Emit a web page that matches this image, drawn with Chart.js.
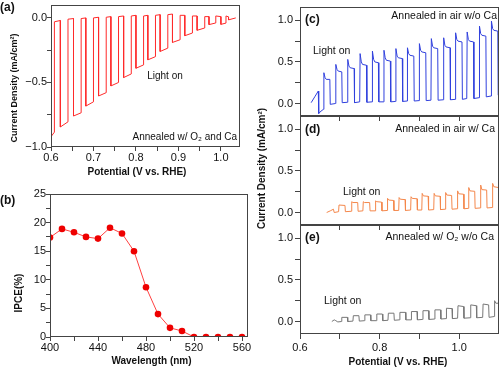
<!DOCTYPE html>
<html><head><meta charset="utf-8">
<script src="https://cdn.jsdelivr.net/npm/chart.js@4"></script>
<style>
html,body{margin:0;padding:0;background:#fff;}
#wrap{position:relative;width:500px;height:368px;overflow:hidden;background:#fff;}
canvas{position:absolute;}
</style></head><body>
<div id="wrap">
<canvas id="cb" width="258" height="188" style="left:0;top:180px"></canvas>
<canvas id="ca" width="250" height="180" style="left:0;top:0"></canvas>
<canvas id="ce" width="250" height="143" style="left:250px;top:225px"></canvas>
<canvas id="cd" width="250" height="139" style="left:250px;top:95px"></canvas>
<canvas id="cc" width="250" height="125" style="left:250px;top:0"></canvas>
</div>
<script>
// ---------- DATA ----------
// (a) chopped photocurrent, annealed w/ O2 and Ca
const potA = [0.600,0.608,0.608,0.622, 0.622,0.640,0.640,0.653, 0.653,0.671,0.671,0.682, 0.682,0.700,0.700,0.712,
  0.712,0.730,0.730,0.741, 0.741,0.759,0.759,0.771, 0.771,0.789,0.789,0.800, 0.800,0.818,0.818,0.828,
  0.828,0.846,0.846,0.857, 0.857,0.875,0.875,0.886, 0.886,0.904,0.904,0.915, 0.915,0.933,0.933,0.944,
  0.944,0.962,0.962,0.972, 0.972,0.988,0.988,1.000, 1.000,1.012,1.012,1.018,1.018,1.035];
const curA = [-0.92,-0.885,-0.03,-0.02, -0.845,-0.805,-0.01,-0.005, -0.76,-0.735,-0.005,0.0, -0.683,-0.65,0.0,0.005,
  -0.605,-0.579,0.005,0.01, -0.527,-0.50,0.01,0.015, -0.462,-0.434,0.015,0.02, -0.39,-0.364,0.015,0.02,
  -0.325,-0.30,0.02,0.025, -0.26,-0.234,0.025,0.03, -0.19,-0.169,0.02,0.02, -0.138,-0.117,0.015,0.015,
  -0.096,-0.078,0.01,0.01, -0.052,-0.039,0.015,0.01, -0.05,-0.04,0.015,0.008,-0.015,0.0];

// (b) IPCE
const wavelength = [400,410,420,430,440,450,460,470,480,490,500,510,520,530,540,550,560];
const ipce = [17.4,18.9,18.3,17.5,17.2,19.1,18.1,15.0,8.7,4.0,1.6,1.05,0,0,0,0,0];

// (c) annealed in air w/o Ca
const potC = [0.628,0.637,0.646,0.647,0.653,0.659,
  0.660,0.663,0.666,0.675,0.676,0.689, 0.690,0.693,0.696,0.705,0.706,0.719,
  0.720,0.723,0.726,0.736,0.737,0.750, 0.751,0.754,0.757,0.767,0.768,0.781,
  0.782,0.785,0.788,0.797,0.798,0.810, 0.811,0.814,0.817,0.827,0.828,0.840,
  0.841,0.844,0.847,0.857,0.858,0.869, 0.870,0.873,0.876,0.886,0.887,0.899,
  0.900,0.903,0.906,0.916,0.917,0.929, 0.930,0.933,0.936,0.946,0.947,0.960,
  0.961,0.964,0.967,0.977,0.978,0.990, 0.991,0.994,0.997,1.007,1.008,1.019,
  1.020,1.023,1.026,1.036,1.037,1.050, 1.051,1.054,1.057,1.067,1.068,1.080,
  1.081,1.084,1.087,1.097,1.098,1.100];
const curC = [0.01,0.08,0.15,-0.12,-0.09,-0.07,
  0.37,0.31,0.29,0.29,-0.01,0.0, 0.47,0.41,0.39,0.38,0.01,0.015,
  0.53,0.45,0.43,0.42,0.01,0.02, 0.60,0.50,0.47,0.46,0.015,0.02,
  0.63,0.53,0.50,0.49,0.02,0.02, 0.64,0.55,0.52,0.51,0.02,0.025,
  0.66,0.57,0.55,0.54,0.025,0.03, 0.67,0.60,0.58,0.57,0.03,0.035,
  0.72,0.64,0.62,0.61,0.035,0.04, 0.78,0.69,0.67,0.66,0.04,0.045,
  0.79,0.70,0.68,0.67,0.045,0.05, 0.85,0.77,0.75,0.74,0.05,0.06,
  0.86,0.77,0.75,0.74,0.06,0.07, 0.93,0.84,0.82,0.81,0.08,0.09,
  0.99,0.90,0.88,0.87,0.10,0.10];

// (d) annealed in air w/ Ca
const potD = [0.667,0.676,0.684,0.686,0.697,
  0.698,0.713,0.714,0.729, 0.730,0.733,0.745,0.746,0.758,
  0.759,0.762,0.775,0.776,0.789, 0.790,0.793,0.805,0.806,0.819,
  0.820,0.823,0.835,0.836,0.848, 0.849,0.852,0.864,0.865,0.878,
  0.879,0.882,0.894,0.895,0.906, 0.907,0.910,0.922,0.923,0.936,
  0.937,0.940,0.952,0.953,0.965, 0.966,0.969,0.981,0.982,0.995,
  0.996,0.999,1.011,1.012,1.023, 1.024,1.027,1.039,1.040,1.053,
  1.054,1.057,1.069,1.070,1.083, 1.084,1.087,1.099];
const curD = [0.0,0.02,0.04,0.0,0.01,
  0.09,0.085,0.01,0.015, 0.13,0.12,0.12,0.015,0.02,
  0.13,0.12,0.12,0.02,0.02, 0.14,0.13,0.125,0.02,0.025,
  0.17,0.15,0.145,0.025,0.025, 0.18,0.16,0.155,0.025,0.03,
  0.19,0.17,0.165,0.03,0.03, 0.23,0.20,0.195,0.03,0.035,
  0.23,0.20,0.195,0.035,0.04, 0.24,0.21,0.205,0.04,0.045,
  0.26,0.225,0.22,0.045,0.05, 0.30,0.26,0.255,0.05,0.055,
  0.33,0.275,0.27,0.055,0.06, 0.35,0.31,0.30];

// (e) annealed w/ O2 w/o Ca
const potE = [0.680,0.686,0.690,0.695,0.704,
  0.705,0.719,0.720,0.733, 0.734,0.748,0.749,0.762,
  0.763,0.777,0.778,0.792, 0.793,0.807,0.808,0.821,
  0.822,0.836,0.837,0.850, 0.851,0.865,0.866,0.879,
  0.880,0.894,0.895,0.908, 0.909,0.923,0.924,0.938,
  0.939,0.953,0.954,0.967, 0.968,0.982,0.983,0.996,
  0.997,1.011,1.012,1.028, 1.029,1.043,1.044,1.059,
  1.060,1.074,1.075,1.088, 1.089,1.092,1.100];
const curE = [0.0,0.02,0.01,-0.005,0.0,
  0.05,0.05,0.0,0.005, 0.07,0.07,0.005,0.01,
  0.08,0.08,0.01,0.01, 0.09,0.09,0.01,0.015,
  0.10,0.10,0.015,0.02, 0.11,0.11,0.02,0.02,
  0.12,0.12,0.02,0.025, 0.13,0.13,0.025,0.03,
  0.14,0.14,0.03,0.035, 0.16,0.155,0.035,0.04,
  0.19,0.18,0.04,0.045, 0.20,0.19,0.045,0.05,
  0.21,0.20,0.05,0.06, 0.25,0.22,0.22];

// tick values / labels
const ticksAX = [0.6,0.65,0.7,0.75,0.8,0.85,0.9,0.95,1.0];
const labelsAX = [0.6,0.7,0.8,0.9,1.0];
const ticksAY = [-1,-0.75,-0.5,-0.25,0];
const labelsAY = [-1,-0.5,0];
const ticksBX = [400,420,440,460,480,500,520,540,560];
const labelsBX = [400,440,480,520,560];
const ticksBY = [0,2.5,5,7.5,10,12.5,15,17.5,20,22.5,25];
const labelsBY = [0,5,10,15,20,25];
const ticksRX = [0.6,0.7,0.8,0.9,1.0];
const labelsRX = [0.6,0.8,1.0];
const ticksRY = [0,0.25,0.5,0.75,1.0];
const labelsRY = [0,0.5,1.0];

// ---------- RENDER ----------
const FONT = "'Liberation Sans', Arial, Helvetica, sans-serif";
const FRAME = '#444';
const f1 = v => (v < 0 ? '\u2212' : '') + Math.abs(v).toFixed(1);
const f0 = v => String(Math.round(v));

function pts(xs, ys) { return xs.map((x, i) => ({x: x, y: ys[i]})); }

function axis(o) {
  return {
    type: 'linear', position: o.pos, min: o.min, max: o.max,
    afterBuildTicks: s => { s.ticks = o.ticks.map(v => ({value: v})); },
    afterFit: s => {
      if (o.pos === 'left') s.width = o.size; else s.height = o.size;
      s.paddingLeft = 0; s.paddingRight = 0; s.paddingTop = 0; s.paddingBottom = 0;
    },
    ticks: {
      autoSkip: false, maxRotation: 0, minRotation: 0, padding: o.pad, color: '#111',
      font: {family: FONT, size: 11},
      callback: v => { const m = o.labels.find(l => Math.abs(l - v) < 1e-9); return m === undefined ? '' : o.fmt(m); }
    },
    grid: {drawOnChartArea: false, drawTicks: true, tickLength: o.tl, color: FRAME, tickColor: FRAME, lineWidth: 1},
    border: {display: false}
  };
}

const deco = {
  id: 'deco',
  afterDraw(chart, args, opts) {
    const ctx = chart.ctx, a = chart.chartArea;
    ctx.save();
    ctx.strokeStyle = FRAME; ctx.lineWidth = 1;
    ctx.strokeRect(Math.round(a.left) + 0.5, Math.round(a.top) + 0.5,
      Math.round(a.right) - Math.round(a.left) - 1, Math.round(a.bottom) - Math.round(a.top) - 1);
    (opts.texts || []).forEach(t => {
      ctx.save();
      ctx.font = (t.b ? 'bold ' : '') + t.s + 'px ' + FONT;
      ctx.fillStyle = '#111';
      ctx.textAlign = t.a || 'left';
      ctx.textBaseline = 'middle';
      ctx.translate(t.x, t.y);
      if (t.r) ctx.rotate(-Math.PI / 2);
      ctx.fillText(t.t, 0, 0);
      ctx.restore();
    });
    ctx.restore();
  }
};

function make(id, datasets, sx, sy, pad, texts) {
  return new Chart(document.getElementById(id), {
    type: 'line',
    data: {datasets: datasets},
    options: {
      responsive: false, animation: false, devicePixelRatio: 1,
      layout: {padding: {left: 0, bottom: 0, top: pad.t, right: pad.r}},
      plugins: {legend: {display: false}, tooltip: {enabled: false}, deco: {texts: texts}},
      scales: {x: sx, y: sy}
    },
    plugins: [deco]
  });
}

function lineDs(xs, ys, color) {
  return {data: pts(xs, ys), borderColor: color, borderWidth: 1, pointRadius: 0, tension: 0, fill: false};
}

// (a)
make('ca', [lineDs(potA, curA, '#ff2a2a')],
  axis({pos: 'bottom', min: 0.6, max: 1.045, ticks: ticksAX, labels: labelsAX, fmt: f1, size: 33, tl: 4, pad: 0}),
  axis({pos: 'left', min: -1.0, max: 0.1, ticks: ticksAY, labels: labelsAY, fmt: f1, size: 51, tl: 4, pad: 0}),
  {t: 5, r: 10},
  [
    {t: '(a)', x: 0, y: 8, s: 12, b: true},
    {t: 'Current Density (mA/cm\u00B2)', x: 15, y: 88, s: 9, b: true, r: true, a: 'center'},
    {t: 'Potential (V vs. RHE)', x: 137, y: 172, s: 10, b: true, a: 'center'},
    {t: 'Light on', x: 165, y: 76, s: 10, a: 'center'},
    {t: 'Annealed w/ O\u2082 and Ca', x: 237, y: 137, s: 10, a: 'right'}
  ]);

// (b)
make('cb', [{data: pts(wavelength, ipce), borderColor: '#ff4040', borderWidth: 1, pointRadius: 3.3,
    pointBackgroundColor: '#ee0000', pointBorderWidth: 0, tension: 0, fill: false}],
  axis({pos: 'bottom', min: 400, max: 565, ticks: ticksBX, labels: labelsBX, fmt: f0, size: 31, tl: 4, pad: 0}),
  axis({pos: 'left', min: 0, max: 25, ticks: ticksBY, labels: labelsBY, fmt: f0, size: 50, tl: 4, pad: 0}),
  {t: 14, r: 10},
  [
    {t: '(b)', x: 0, y: 21, s: 12, b: true},
    {t: 'IPCE(%)', x: 19, y: 113, s: 10, b: true, r: true, a: 'center'},
    {t: 'Wavelength (nm)', x: 151.5, y: 181.5, s: 10, b: true, a: 'center'}
  ]);

// (c)
make('cc', [lineDs(potC, curC, '#3040dd')],
  axis({pos: 'bottom', min: 0.6, max: 1.1, ticks: ticksRX, labels: [], fmt: f1, size: 9, tl: 5, pad: 2}),
  axis({pos: 'left', min: -0.15, max: 1.16, ticks: ticksRY, labels: labelsRY, fmt: f1, size: 50, tl: 5, pad: 2}),
  {t: 7, r: 1},
  [
    {t: '(c)', x: 55, y: 20, s: 12, b: true},
    {t: 'Annealed in air w/o Ca', x: 247, y: 16, s: 10.5, a: 'right'},
    {t: 'Light on', x: 63, y: 51, s: 10.5}
  ]);

// (d)
make('cd', [lineDs(potD, curD, '#f4874b')],
  axis({pos: 'bottom', min: 0.6, max: 1.1, ticks: ticksRX, labels: [], fmt: f1, size: 9, tl: 5, pad: 2}),
  axis({pos: 'left', min: -0.15, max: 1.16, ticks: ticksRY, labels: labelsRY, fmt: f1, size: 50, tl: 5, pad: 2}),
  {t: 21, r: 1},
  [
    {t: '(d)', x: 55, y: 34.5, s: 12, b: true},
    {t: 'Annealed in air w/ Ca', x: 245, y: 34.5, s: 10.5, a: 'right'},
    {t: 'Light on', x: 93, y: 97, s: 10.5},
    {t: 'Current Density (mA/cm\u00B2)', x: 12, y: 73.5, s: 10, b: true, r: true, a: 'center'}
  ]);

// (e)
make('ce', [lineDs(potE, curE, '#777777')],
  axis({pos: 'bottom', min: 0.6, max: 1.1, ticks: ticksRX, labels: labelsRX, fmt: f1, size: 34, tl: 5, pad: 2}),
  axis({pos: 'left', min: -0.15, max: 1.16, ticks: ticksRY, labels: labelsRY, fmt: f1, size: 50, tl: 5, pad: 2}),
  {t: 0, r: 1},
  [
    {t: '(e)', x: 55, y: 12.5, s: 12, b: true},
    {t: 'Annealed w/ O\u2082 w/o Ca', x: 244, y: 12.5, s: 10.5, a: 'right'},
    {t: 'Light on', x: 74, y: 76, s: 10.5},
    {t: 'Potential (V vs. RHE)', x: 148, y: 137.5, s: 10, b: true, a: 'center'}
  ]);
</script>
</body></html>
